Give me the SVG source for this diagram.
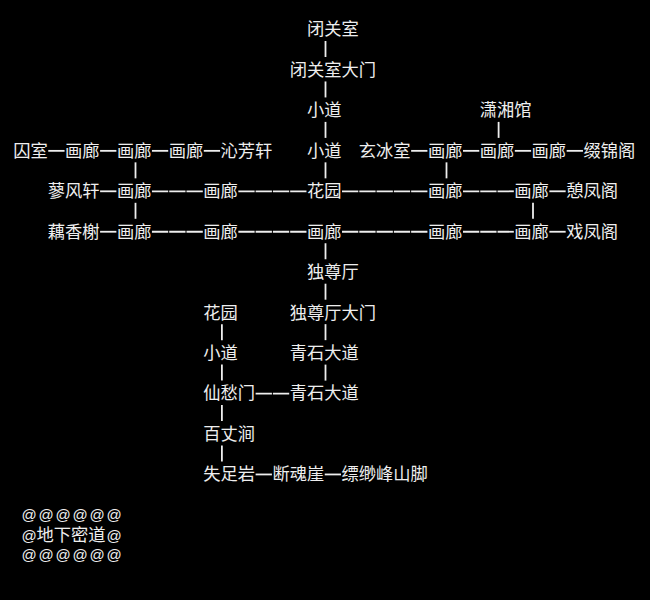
<svg xmlns="http://www.w3.org/2000/svg" width="650" height="600" viewBox="0 0 650 600">
<style>
text{font-family:"Noto Sans CJK SC","Noto Sans",sans-serif;font-size:17.28px;fill:#eeeeee}
.at{font-family:"Liberation Sans","Noto Sans CJK SC",sans-serif;font-size:15px}
.h{stroke:#eeeeee;stroke-width:1.8;stroke-dasharray:16.3 0.98}
.v{stroke:#eeeeee;stroke-width:1.8}
</style>
<rect width="650" height="600" fill="#000"/>
<g id="connectors">
<line class="h" x1="48.25" y1="150.85" x2="64.55" y2="150.85"/>
<line class="h" x1="100.09" y1="150.85" x2="116.39" y2="150.85"/>
<line class="h" x1="151.93" y1="150.85" x2="168.23" y2="150.85"/>
<line class="h" x1="203.77" y1="150.85" x2="220.07" y2="150.85"/>
<line class="h" x1="411.13" y1="150.85" x2="427.43" y2="150.85"/>
<line class="h" x1="462.97" y1="150.85" x2="479.27" y2="150.85"/>
<line class="h" x1="514.81" y1="150.85" x2="531.11" y2="150.85"/>
<line class="h" x1="566.65" y1="150.85" x2="582.95" y2="150.85"/>
<line class="h" x1="100.09" y1="191.3" x2="116.39" y2="191.3"/>
<line class="h" x1="151.93" y1="191.3" x2="202.79" y2="191.3"/>
<line class="h" x1="238.33" y1="191.3" x2="306.47" y2="191.3"/>
<line class="h" x1="342.01" y1="191.3" x2="427.43" y2="191.3"/>
<line class="h" x1="462.97" y1="191.3" x2="513.83" y2="191.3"/>
<line class="h" x1="549.37" y1="191.3" x2="565.67" y2="191.3"/>
<line class="h" x1="100.09" y1="231.75" x2="116.39" y2="231.75"/>
<line class="h" x1="151.93" y1="231.75" x2="202.79" y2="231.75"/>
<line class="h" x1="238.33" y1="231.75" x2="306.47" y2="231.75"/>
<line class="h" x1="342.01" y1="231.75" x2="427.43" y2="231.75"/>
<line class="h" x1="462.97" y1="231.75" x2="513.83" y2="231.75"/>
<line class="h" x1="549.37" y1="231.75" x2="565.67" y2="231.75"/>
<line class="h" x1="255.61" y1="393.55" x2="289.19" y2="393.55"/>
<line class="h" x1="255.61" y1="474.45" x2="271.91" y2="474.45"/>
<line class="h" x1="324.73" y1="474.45" x2="341.03" y2="474.45"/>
<line class="v" x1="325.5" y1="41" x2="325.5" y2="57"/>
<line class="v" x1="325.5" y1="81.45" x2="325.5" y2="97.45"/>
<line class="v" x1="325.5" y1="121.9" x2="325.5" y2="137.9"/>
<line class="v" x1="325.5" y1="162.35" x2="325.5" y2="178.35"/>
<line class="v" x1="325.5" y1="243.25" x2="325.5" y2="259.25"/>
<line class="v" x1="325.5" y1="283.7" x2="325.5" y2="299.7"/>
<line class="v" x1="325.5" y1="324.15" x2="325.5" y2="340.15"/>
<line class="v" x1="325.5" y1="364.6" x2="325.5" y2="380.6"/>
<line class="v" x1="135.5" y1="162.35" x2="135.5" y2="178.35"/>
<line class="v" x1="135.5" y1="202.8" x2="135.5" y2="218.8"/>
<line class="v" x1="446.5" y1="162.35" x2="446.5" y2="178.35"/>
<line class="v" x1="498.6" y1="121.9" x2="498.6" y2="137.9"/>
<line class="v" x1="533" y1="202.8" x2="533" y2="218.8"/>
<line class="v" x1="221.9" y1="324.15" x2="221.9" y2="340.15"/>
<line class="v" x1="221.9" y1="364.6" x2="221.9" y2="380.6"/>
<line class="v" x1="221.9" y1="405.05" x2="221.9" y2="421.05"/>
<line class="v" x1="221.9" y1="445.5" x2="221.9" y2="461.5"/>
</g>
<g id="n-biguanshi"><text x="306.96" y="35.4">闭关室</text></g>
<g id="n-biguanshi-damen"><text x="289.68" y="75.85">闭关室大门</text></g>
<g id="n-xiaodao-1"><text x="306.96" y="116.3">小道</text></g>
<g id="n-xiaoxiangguan"><text x="479.76" y="116.3">潇湘馆</text></g>
<g id="n-qiushi"><text x="13.2" y="156.75">囚室</text></g>
<g id="n-hualang-3a"><text x="65.04" y="156.75">画廊</text></g>
<g id="n-hualang-3b"><text x="116.88" y="156.75">画廊</text></g>
<g id="n-hualang-3c"><text x="168.72" y="156.75">画廊</text></g>
<g id="n-qinfangxuan"><text x="220.56" y="156.75">沁芳轩</text></g>
<g id="n-xiaodao-2"><text x="306.96" y="156.75">小道</text></g>
<g id="n-xuanbingshi"><text x="358.8" y="156.75">玄冰室</text></g>
<g id="n-hualang-3d"><text x="427.92" y="156.75">画廊</text></g>
<g id="n-hualang-3e"><text x="479.76" y="156.75">画廊</text></g>
<g id="n-hualang-3f"><text x="531.6" y="156.75">画廊</text></g>
<g id="n-zhuijinge"><text x="583.44" y="156.75">缀锦阁</text></g>
<g id="n-liaofengxuan"><text x="47.76" y="197.2">蓼风轩</text></g>
<g id="n-hualang-4a"><text x="116.88" y="197.2">画廊</text></g>
<g id="n-hualang-4b"><text x="203.28" y="197.2">画廊</text></g>
<g id="n-huayuan-1"><text x="306.96" y="197.2">花园</text></g>
<g id="n-hualang-4c"><text x="427.92" y="197.2">画廊</text></g>
<g id="n-hualang-4d"><text x="514.32" y="197.2">画廊</text></g>
<g id="n-qifengge"><text x="566.16" y="197.2">憩凤阁</text></g>
<g id="n-ouxiangxie"><text x="47.76" y="237.65">藕香榭</text></g>
<g id="n-hualang-5a"><text x="116.88" y="237.65">画廊</text></g>
<g id="n-hualang-5b"><text x="203.28" y="237.65">画廊</text></g>
<g id="n-hualang-5c"><text x="306.96" y="237.65">画廊</text></g>
<g id="n-hualang-5d"><text x="427.92" y="237.65">画廊</text></g>
<g id="n-hualang-5e"><text x="514.32" y="237.65">画廊</text></g>
<g id="n-xifengge"><text x="566.16" y="237.65">戏凤阁</text></g>
<g id="n-duzunting"><text x="306.96" y="278.1">独尊厅</text></g>
<g id="n-huayuan-2"><text x="203.28" y="318.55">花园</text></g>
<g id="n-duzunting-damen"><text x="289.68" y="318.55">独尊厅大门</text></g>
<g id="n-xiaodao-3"><text x="203.28" y="359">小道</text></g>
<g id="n-qingshi-1"><text x="289.68" y="359">青石大道</text></g>
<g id="n-xianchoumen"><text x="203.28" y="399.45">仙愁门</text></g>
<g id="n-qingshi-2"><text x="289.68" y="399.45">青石大道</text></g>
<g id="n-baizhangjian"><text x="203.28" y="439.9">百丈涧</text></g>
<g id="n-shizuyan"><text x="203.28" y="480.35">失足岩</text></g>
<g id="n-duanhunya"><text x="272.4" y="480.35">断魂崖</text></g>
<g id="n-piaomiao"><text x="341.52" y="480.35">缥缈峰山脚</text></g>
<g id="n-didimidao">
<text class="at" x="21.5 38.5 55.5 72.5 89.5 106.5" y="519.6">@@@@@@</text>
<text y="541.2"><tspan class="at" x="21.5">@</tspan><tspan x="36.5">地下密道</tspan><tspan class="at" x="106.5">@</tspan></text>
<text class="at" x="21.5 38.5 55.5 72.5 89.5 106.5" y="560">@@@@@@</text>
</g>
</svg>
